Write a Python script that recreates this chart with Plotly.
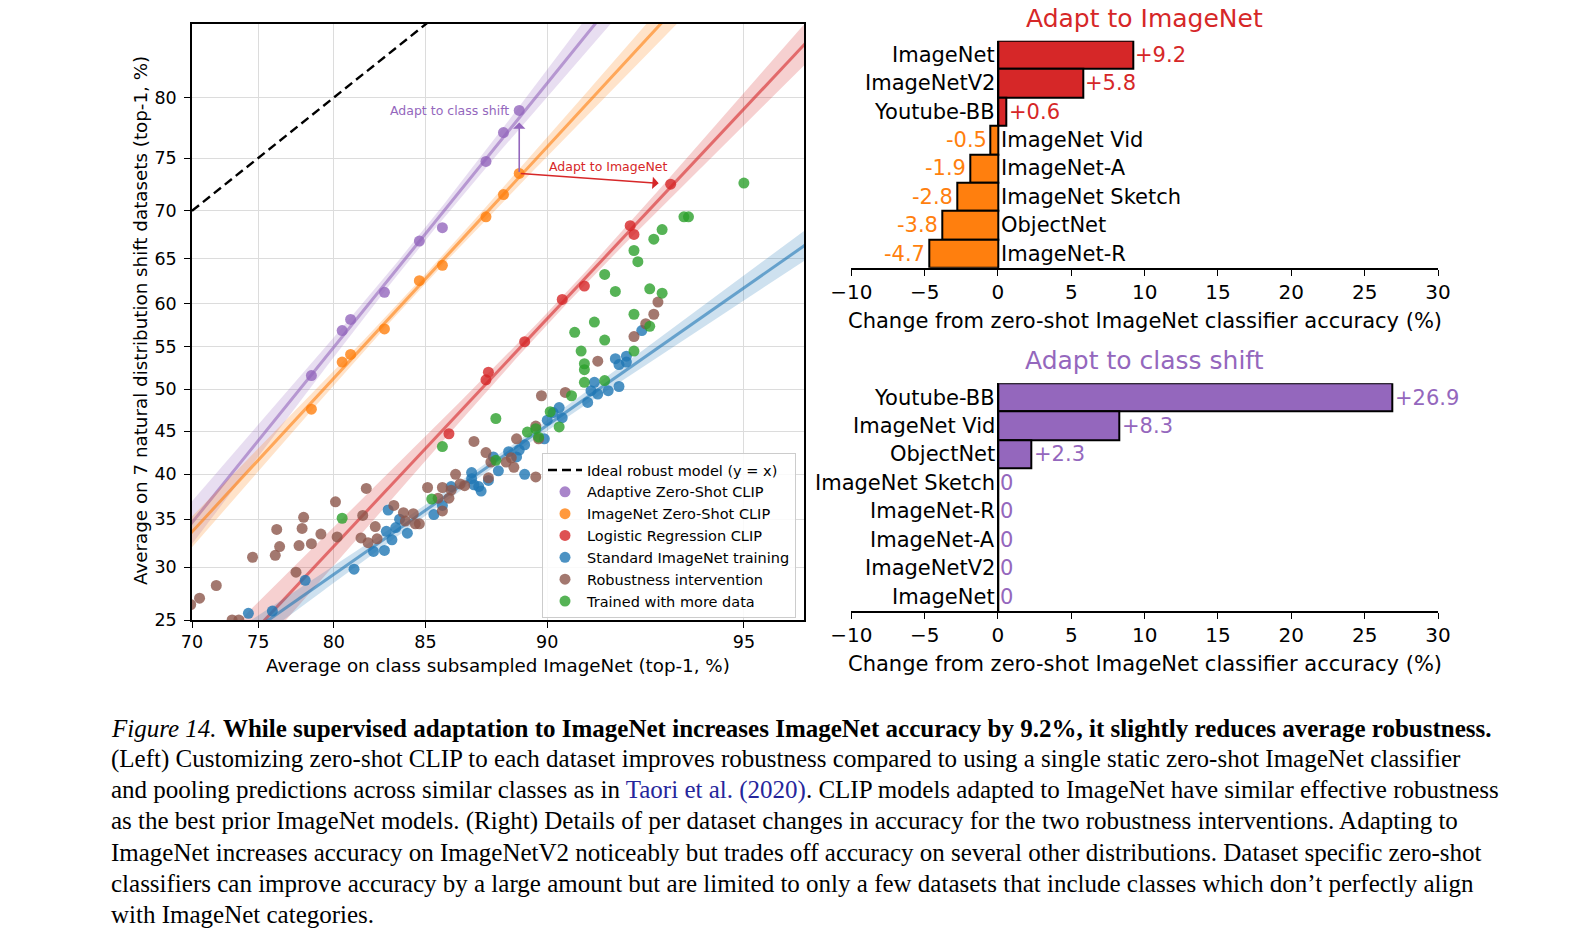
import numpy as np
import plotly.graph_objects as go

W, H = 1591, 951

# ---------------- Left panel data (percent) ----------------
adaptive_x = [78.6, 80.5, 81.0, 82.9, 84.7, 85.8, 87.7, 88.4, 89.0]
adaptive_y = [51.6, 56.9, 58.2, 61.3, 66.9, 68.3, 74.7, 77.2, 79.0]

zeroshot_x = [78.6, 80.5, 81.0, 82.9, 84.7, 85.8, 87.7, 88.4, 89.0]
zeroshot_y = [47.6, 53.2, 54.1, 57.1, 62.6, 64.3, 69.4, 71.6, 73.6]

logreg_x = [86.1, 87.7, 87.8, 89.2, 90.5, 91.2, 92.5, 92.6, 93.5]
logreg_y = [44.7, 51.1, 52.0, 55.6, 60.5, 62.0, 68.5, 67.6, 72.6]

standard_x = [74.3, 76.0, 78.2, 81.2, 82.3, 82.9, 83.3, 83.0, 83.5, 83.1, 84.1, 85.4, 85.8,
              86.2, 87.1, 87.1, 87.2, 87.4, 87.8, 88.0, 88.2, 88.6, 89.0, 89.2, 89.2, 88.9,
              89.9, 90.0, 90.2, 90.4, 90.5, 91.3, 91.4, 91.6, 91.9, 92.2, 92.1, 92.2, 92.4,
              92.4, 92.8, 91.5, 87.5, 83.7]
standard_y = [25.6, 25.8, 28.7, 29.8, 31.6, 31.7, 32.8, 33.7, 34.1, 36.0, 33.5, 35.5, 36.5,
              38.6, 40.2, 39.5, 38.8, 38.6, 39.3, 42.0, 40.4, 42.6, 42.8, 43.4, 40.0, 42.0,
              44.1, 46.3, 47.2, 47.8, 46.6, 48.4, 49.8, 49.4, 49.8, 50.3, 53.6, 52.9, 53.9,
              53.2, 56.9, 50.8, 38.1, 35.0]

robust_x = [70.6, 71.9, 69.9, 73.1, 73.6, 74.6, 76.2, 76.3, 76.5, 77.6, 77.8, 78.0, 78.1, 78.6,
            79.2, 80.1, 80.2, 81.7, 81.9, 81.6, 82.0, 82.4, 82.5, 83.4, 83.9, 84.0, 84.5, 84.7,
            84.4, 85.1, 85.8, 86.2, 85.6, 86.1, 85.8, 86.4, 86.6, 86.8, 87.2, 87.7, 87.8, 87.9,
            88.5, 88.7, 88.8, 88.9, 89.6, 89.7, 89.6, 89.8, 90.6, 91.6, 92.6, 92.9, 93.1, 93.2]
robust_y = [27.0, 28.2, 26.4, 25.0, 25.0, 31.0, 31.2, 33.9, 32.1, 29.5, 32.2, 34.0, 35.2, 32.4,
            33.4, 36.9, 33.1, 35.4, 38.4, 33.0, 32.5, 34.2, 32.9, 36.5, 35.7, 34.8, 34.5, 34.5,
            35.6, 38.5, 38.5, 38.2, 37.3, 37.3, 35.9, 40.0, 38.9, 38.7, 43.8, 42.5, 39.6, 41.4,
            41.4, 41.9, 40.8, 44.1, 45.6, 44.1, 39.7, 49.2, 49.6, 53.3, 56.2, 57.7, 58.8, 60.2]

moredata_x = [95.0, 93.8, 93.9, 93.3, 93.1, 92.6, 92.7, 91.8, 92.1, 93.0, 93.3, 91.5, 90.9, 91.8,
              92.6, 93.0, 91.1, 92.6, 91.2, 91.2, 91.2, 91.8, 90.8, 90.1, 90.4, 89.6, 89.7, 89.3,
              88.1, 88.1, 85.8, 85.3, 80.5]
moredata_y = [72.7, 69.4, 69.4, 68.1, 67.1, 65.9, 64.7, 63.3, 61.4, 61.7, 61.2, 57.9, 56.7, 55.8,
              58.8, 57.4, 54.5, 54.5, 53.0, 52.3, 50.8, 51.0, 49.2, 47.3, 45.5, 45.3, 44.3, 44.9,
              46.5, 41.6, 43.2, 37.2, 35.1]

ideal_x = [70, 96]
ideal_y = [70, 96]

x_ticks = [70, 75, 80, 85, 90, 95]
y_ticks = [25, 30, 35, 40, 45, 50, 55, 60, 65, 70, 75, 80]
x_lim = [70, 95.98]
y_lim = [25, 85.02]

# ---------------- Right panel data ----------------
imagenet_cats = ["ImageNet", "ImageNetV2", "Youtube-BB", "ImageNet Vid", "ImageNet-A",
                 "ImageNet Sketch", "ObjectNet", "ImageNet-R"]
imagenet_vals = [9.2, 5.8, 0.6, -0.5, -1.9, -2.8, -3.8, -4.7]

classshift_cats = ["Youtube-BB", "ImageNet Vid", "ObjectNet", "ImageNet Sketch", "ImageNet-R",
                   "ImageNet-A", "ImageNetV2", "ImageNet"]
classshift_vals = [26.9, 8.3, 2.3, 0, 0, 0, 0, 0]

bar_ticks = [-10, -5, 0, 5, 10, 15, 20, 25, 30]

PURPLE, ORANGE, RED = "#9467bd", "#ff7f0e", "#d62728"
BLUE, BROWN, GREEN = "#1f77b4", "#8c564b", "#2ca02c"
FONT = "DejaVu Sans"


def logit(p):
    p = np.asarray(p, dtype=float) / 100.0
    return np.log(p / (1.0 - p))


def rgba(hexc, a):
    h = hexc.lstrip("#")
    return "rgba(%d,%d,%d,%.3f)" % (int(h[0:2], 16), int(h[2:4], 16), int(h[4:6], 16), a)


def fit_band(xp, yp, n=200):
    lx, ly = logit(xp), logit(yp)
    b, a = np.polyfit(lx, ly, 1)
    xs = np.linspace(logit(x_lim[0]) - 0.05, logit(x_lim[1]) + 0.05, n)
    yhat = a + b * xs
    resid = ly - (a + b * lx)
    s = np.sqrt(np.sum(resid ** 2) / (len(lx) - 2))
    se = s * np.sqrt(1.0 / len(lx) + (xs - lx.mean()) ** 2 / np.sum((lx - lx.mean()) ** 2))
    ci = 2.4 * se
    return xs, yhat, yhat - ci, yhat + ci


fig = go.Figure()

# Ideal robust model line
fig.add_trace(go.Scatter(x=logit(ideal_x), y=logit(ideal_y), mode="lines",
                         line=dict(color="black", width=2.4, dash="9px,5px"),
                         name="Ideal robust model (y = x)", xaxis="x", yaxis="y",
                         hoverinfo="skip"))

# regression lines with confidence bands
for xs_, ys_, col in [(adaptive_x, adaptive_y, PURPLE), (zeroshot_x, zeroshot_y, ORANGE),
                      (logreg_x, logreg_y, RED), (standard_x, standard_y, BLUE)]:
    gx, gy, lo, hi = fit_band(xs_, ys_)
    fig.add_trace(go.Scatter(x=np.concatenate([gx, gx[::-1]]), y=np.concatenate([hi, lo[::-1]]),
                             fill="toself", fillcolor=rgba(col, 0.22), line=dict(width=0),
                             mode="lines", showlegend=False, hoverinfo="skip",
                             xaxis="x", yaxis="y"))
    fig.add_trace(go.Scatter(x=gx, y=gy, mode="lines", line=dict(color=rgba(col, 0.6), width=3),
                             showlegend=False, hoverinfo="skip", xaxis="x", yaxis="y"))

# scatter groups
for xs_, ys_, col, name in [(adaptive_x, adaptive_y, PURPLE, "Adaptive Zero-Shot CLIP"),
                            (zeroshot_x, zeroshot_y, ORANGE, "ImageNet Zero-Shot CLIP"),
                            (logreg_x, logreg_y, RED, "Logistic Regression CLIP"),
                            (standard_x, standard_y, BLUE, "Standard ImageNet training"),
                            (robust_x, robust_y, BROWN, "Robustness intervention"),
                            (moredata_x, moredata_y, GREEN, "Trained with more data")]:
    fig.add_trace(go.Scatter(x=logit(xs_), y=logit(ys_), mode="markers", name=name,
                             marker=dict(color=col, size=11, opacity=0.8, line=dict(width=0)),
                             xaxis="x", yaxis="y"))

# bars
fig.add_trace(go.Bar(x=imagenet_vals, y=list(range(len(imagenet_cats))), orientation="h", width=1.0,
                     marker=dict(color=[RED if v > 0 else ORANGE for v in imagenet_vals],
                                 line=dict(color="black", width=2)),
                     showlegend=False, xaxis="x2", yaxis="y2", hoverinfo="skip"))
fig.add_trace(go.Bar(x=classshift_vals, y=list(range(len(classshift_cats))), orientation="h", width=1.0,
                     marker=dict(color=PURPLE, line=dict(color="black", width=2)),
                     showlegend=False, xaxis="x3", yaxis="y3", hoverinfo="skip"))

annotations = []
LBL = 21


def bar_labels(cats, vals, xr, yr, poscol, negcol):
    for i, (c, v) in enumerate(zip(cats, vals)):
        if v >= 0:
            annotations.append(dict(x=0, y=i, xref=xr, yref=yr, text=c, showarrow=False,
                                    xanchor="right", yanchor="middle", xshift=-1,
                                    font=dict(family=FONT, size=LBL, color="black")))
            annotations.append(dict(x=v, y=i, xref=xr, yref=yr,
                                    text=("%+.1f" % v) if v != 0 else "0", showarrow=False,
                                    xanchor="left", yanchor="middle", xshift=0,
                                    font=dict(family=FONT, size=LBL, color=poscol)))
        else:
            annotations.append(dict(x=0, y=i, xref=xr, yref=yr, text=c, showarrow=False,
                                    xanchor="left", yanchor="middle", xshift=1,
                                    font=dict(family=FONT, size=LBL, color="black")))
            annotations.append(dict(x=v, y=i, xref=xr, yref=yr, text="%.1f" % v, showarrow=False,
                                    xanchor="right", yanchor="middle", xshift=-2,
                                    font=dict(family=FONT, size=LBL, color=negcol)))


bar_labels(imagenet_cats, imagenet_vals, "x2", "y2", RED, ORANGE)
bar_labels(classshift_cats, classshift_vals, "x3", "y3", PURPLE, PURPLE)

# arrows in left panel
annotations.append(dict(x=logit([logreg_x[-1]])[0], y=logit([logreg_y[-1]])[0],
                        ax=logit([zeroshot_x[-1]])[0], ay=logit([zeroshot_y[-1]])[0],
                        xref="x", yref="y", axref="x", ayref="y", text="", showarrow=True,
                        arrowhead=1, arrowsize=1.3, arrowwidth=1.6, arrowcolor=RED,
                        standoff=12, startstandoff=0))
annotations.append(dict(x=logit([adaptive_x[-1]])[0], y=logit([adaptive_y[-1]])[0],
                        ax=logit([zeroshot_x[-1]])[0], ay=logit([zeroshot_y[-1]])[0],
                        xref="x", yref="y", axref="x", ayref="y", text="", showarrow=True,
                        arrowhead=1, arrowsize=1.3, arrowwidth=1.6, arrowcolor=PURPLE,
                        standoff=12, startstandoff=0))
annotations.append(dict(x=logit([adaptive_x[-1]])[0], y=logit([adaptive_y[-1]])[0],
                        xref="x", yref="y", text="Adapt to class shift", showarrow=False,
                        xanchor="right", yanchor="middle", xshift=-8,
                        font=dict(family=FONT, size=12.5, color=PURPLE)))
annotations.append(dict(x=547 / W, y=1 - 166.7 / H, xref="paper", yref="paper",
                        text="Adapt to ImageNet", showarrow=False, xanchor="left", yanchor="middle",
                        font=dict(family=FONT, size=12.5, color=RED)))

# axis titles (left)
annotations.append(dict(x=498 / W, y=1 - 665.5 / H, xref="paper", yref="paper",
                        text="Average on class subsampled ImageNet (top-1, %)", showarrow=False,
                        xanchor="center", yanchor="middle", font=dict(family=FONT, size=18.3)))
annotations.append(dict(x=140 / W, y=1 - 321 / H, xref="paper", yref="paper", textangle=-90,
                        text="Average on 7 natural distribution shift datasets (top-1, %)",
                        showarrow=False, xanchor="center", yanchor="middle",
                        font=dict(family=FONT, size=18.3)))

# right panel titles and x labels
for ttl, col, yt, yl in [("Adapt to ImageNet", RED, 18.3, 320.8),
                         ("Adapt to class shift", PURPLE, 360.9, 664.0)]:
    annotations.append(dict(x=1144.6 / W, y=1 - yt / H, xref="paper", yref="paper", text=ttl,
                            showarrow=False, xanchor="center", yanchor="middle",
                            font=dict(family=FONT, size=25, color=col)))
    annotations.append(dict(x=1144.6 / W, y=1 - yl / H, xref="paper", yref="paper",
                            text="Change from zero-shot ImageNet classifier accuracy (%)",
                            showarrow=False, xanchor="center", yanchor="middle",
                            font=dict(family=FONT, size=21, color="black")))

# caption
caption_lines = [
    "<i>Figure 14.</i> <b>While supervised adaptation to ImageNet increases ImageNet accuracy by 9.2%, it slightly reduces average robustness.</b>",
    "(Left) Customizing zero-shot CLIP to each dataset improves robustness compared to using a single static zero-shot ImageNet classifier",
    "and pooling predictions across similar classes as in <span style='color:#26269c'>Taori et al. (2020)</span>. CLIP models adapted to ImageNet have similar effective robustness",
    "as the best prior ImageNet models. (Right) Details of per dataset changes in accuracy for the two robustness interventions. Adapting to",
    "ImageNet increases accuracy on ImageNetV2 noticeably but trades off accuracy on several other distributions. Dataset specific zero-shot",
    "classifiers can improve accuracy by a large amount but are limited to only a few datasets that include classes which don\u2019t perfectly align",
    "with ImageNet categories.",
]
for k, line in enumerate(caption_lines):
    annotations.append(dict(x=109 / W, y=1 - (728.0 + 31.0 * k) / H, xref="paper", yref="paper",
                            text=line, showarrow=False, xanchor="left", yanchor="middle",
                            font=dict(family="Liberation Serif", size=25, color="black")))

left_axis_common = dict(showgrid=True, gridcolor="#dcdcdc", gridwidth=1.3, showline=True,
                        linecolor="black", linewidth=1.5, mirror=True, ticks="outside", ticklen=6,
                        tickwidth=1.3, tickcolor="black", zeroline=False, automargin=False,
                        tickfont=dict(family=FONT, size=17.5, color="black"))

bar_x_common = dict(range=[-10, 30], tickvals=bar_ticks, showgrid=False, showline=True,
                    linecolor="black", linewidth=1.6, ticks="outside", ticklen=6, tickwidth=1.4,
                    tickcolor="black", zeroline=True, zerolinecolor="black", zerolinewidth=2,
                    automargin=False,
                    tickfont=dict(family=FONT, size=20, color="black"), ticklabelstandoff=-1)

fig.update_layout(
    width=W, height=H, autosize=False,
    margin=dict(l=0, r=0, t=0, b=0, pad=0, autoexpand=False),
    paper_bgcolor="white", plot_bgcolor="white",
    font=dict(family=FONT, color="black"),
    showlegend=True,
    legend=dict(x=542 / W, y=1 - 453 / H, xanchor="left", yanchor="top",
                bgcolor="rgba(255,255,255,0.85)", bordercolor="#cccccc", borderwidth=1,
                font=dict(family=FONT, size=14.5, color="black"), traceorder="normal",
                itemwidth=34),
    xaxis=dict(domain=[192 / W, 804 / W], range=logit(x_lim).tolist(),
               tickvals=logit(x_ticks).tolist(), ticktext=[str(t) for t in x_ticks],
               anchor="y", ticklabelstandoff=-1, **left_axis_common),
    yaxis=dict(domain=[1 - 620 / H, 1 - 24 / H], range=logit(y_lim).tolist(),
               tickvals=logit(y_ticks).tolist(), ticktext=[str(t) for t in y_ticks],
               anchor="x", ticklabelstandoff=4, **left_axis_common),
    xaxis2=dict(domain=[851.3 / W, 1438 / W], anchor="y2", **bar_x_common),
    yaxis2=dict(domain=[1 - 267.7 / H, 1 - 40.7 / H], range=[7.5, -0.5], visible=False,
                anchor="x2", automargin=False),
    xaxis3=dict(domain=[851.3 / W, 1438 / W], anchor="y3", **bar_x_common),
    yaxis3=dict(domain=[1 - 611 / H, 1 - 383.3 / H], range=[7.5, -0.5], visible=False,
                anchor="x3", automargin=False),
    bargap=0,
    annotations=annotations,
)

fig.write_html("out.html")
